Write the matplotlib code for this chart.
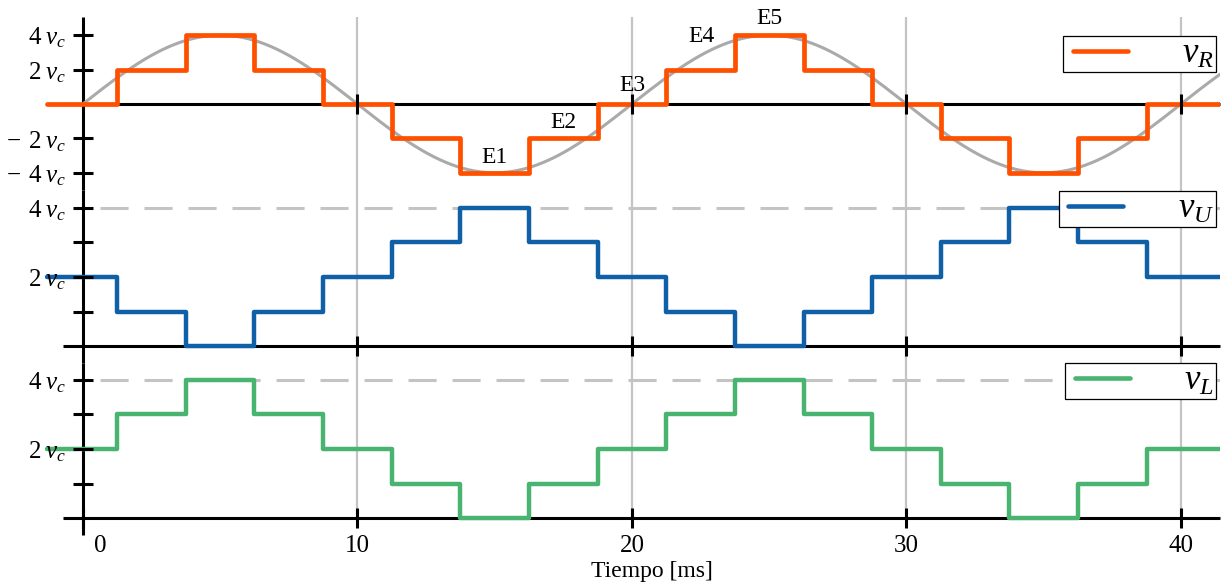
import numpy as np
import matplotlib
matplotlib.use('Agg')
import matplotlib.pyplot as plt
from matplotlib.lines import Line2D
from matplotlib.legend_handler import HandlerLine2D
from matplotlib.transforms import ScaledTranslation

plt.rcParams['font.family'] = 'Liberation Serif'
plt.rcParams['mathtext.fontset'] = 'custom'
plt.rcParams['mathtext.rm'] = 'Liberation Serif'
plt.rcParams['mathtext.it'] = 'Liberation Serif:italic'

# time range and switching instants [ms]
t_start, t_end = -1.31, 41.42
t_switch = [1.25, 3.75, 6.25, 8.75, 11.25, 13.75, 16.25, 18.75,
            21.25, 23.75, 26.25, 28.75, 31.25, 33.75, 36.25, 38.75]

# output levels, in units of v_c
v_R = [0, 2, 4, 2, 0, -2, -4, -2, 0, 2, 4, 2, 0, -2, -4, -2, 0]
v_U = [2, 1, 0, 1, 2, 3, 4, 3, 2, 1, 0, 1, 2, 3, 4, 3, 2]
v_L = [2, 3, 4, 3, 2, 1, 0, 1, 2, 3, 4, 3, 2, 1, 0, 1, 2]

# reference sine: 4 v_c, 50 Hz
amp = 4
period = 20

# level names and where they are written (t, v)
level_names = ['E1', 'E2', 'E3', 'E4', 'E5']
level_pos = [(15.0, -3.1), (17.5, -1.05), (20.0, 1.1), (22.55, 3.95), (25.0, 5.0)]

x_ticks = [0, 10, 20, 30, 40]
r_ticks = [-4, -2, 2, 4]
r_labels = [r'$-\;\,4\;v_c$', r'$-\;\,2\;v_c$', r'$2\;v_c$', r'$4\;v_c$']
ul_ticks = [1, 2, 3, 4]
ul_labels = ['', r'$2\;v_c$', '', r'$4\;v_c$']

c_R = '#ff5000'
c_U = '#1060a8'
c_L = '#48b470'
c_grid = '#c4c4c4'

W, H = 1225, 583
fig = plt.figure(figsize=(W / 100, H / 100), dpi=100)


def axes_px(top, bottom):
    return fig.add_axes([45 / W, 1 - bottom / H, (1220 - 45) / W, (bottom - top) / H])


ax_r = axes_px(17, 190)
ax_u = axes_px(190, 363)
ax_l = axes_px(363, 535)

ax_r.set_ylim(-5.0, 5.06)
ax_u.set_ylim(-0.49, 4.52)
ax_l.set_ylim(-0.49, 4.49)

edges = [t_start] + t_switch + [t_end]

for ax in (ax_r, ax_u, ax_l):
    ax.set_xlim(-1.38, 41.42)
    for s in ('top', 'right'):
        ax.spines[s].set_visible(False)
    ax.spines['left'].set_position(('data', 0))
    ax.spines['bottom'].set_position(('data', 0))
    ax.spines['bottom'].set_bounds(-0.73, 41.42)
    for s in ('left', 'bottom'):
        ax.spines[s].set_linewidth(2.2)
        ax.spines[s].set_capstyle('butt')
    ax.patch.set_visible(False)
    ax.tick_params(direction='inout', length=14, width=2.2, labelsize=18, pad=5)
    ax.xaxis.set_zorder(4)
    ax.yaxis.set_zorder(4)
    ax.set_xticks(x_ticks[1:])
    ax.tick_params(axis='x', labelbottom=False)
    lo = ax.get_ylim()[1]
    ax.vlines(x_ticks[1:], 0 if ax is ax_l else ax.get_ylim()[0], lo,
              colors=c_grid, lw=1.6, zorder=1)

# top: reference sine + v_R
t = np.linspace(0, t_end, 600)
ax_r.plot(t, amp * np.sin(2 * np.pi * t / period), color='#aaaaaa', lw=2.2, zorder=2.8)
ax_r.stairs(v_R, edges, baseline=None, color=c_R, lw=3.4, zorder=3,
            capstyle='round', joinstyle='round')
ax_r.set_yticks(r_ticks, r_labels)
for name, (tx, vy) in zip(level_names, level_pos):
    ax_r.text(tx, vy, name, fontsize=17, ha='center', va='center', zorder=3.5)

# middle: v_U
ax_u.hlines(4, 0.62, t_end, colors=c_grid, lw=2.2, linestyles=(0, (9.2, 5.2)), zorder=1.5)
ax_u.stairs(v_U, edges, baseline=None, color=c_U, lw=3.2, zorder=3,
            capstyle='round', joinstyle='round')
ax_u.set_yticks(ul_ticks, ul_labels)

# bottom: v_L
ax_l.hlines(4, 0.62, t_end, colors=c_grid, lw=2.2, linestyles=(0, (9.2, 5.2)), zorder=1.5)
ax_l.stairs(v_L, edges, baseline=None, color=c_L, lw=3.2, zorder=3,
            capstyle='round', joinstyle='round')
ax_l.set_yticks(ul_ticks, ul_labels)
ax_l.set_xticks(x_ticks)
ax_l.tick_params(axis='x', labelbottom=True)
ax_l.get_xticklabels()[0].set_transform(
    ax_l.get_xticklabels()[0].get_transform() + ScaledTranslation(0.17, 0, fig.dpi_scale_trans))
ax_l.set_xlabel('Tiempo [ms]', fontsize=17)
ax_l.xaxis.set_label_coords((t_end / 2 + 1.38) / (41.42 + 1.38), -0.15)

for ax, top, color, name in ((ax_r, 36, c_R, r'$v_R$'), (ax_u, 191, c_U, r'$v_U$'),
                             (ax_l, 363, c_L, r'$v_L$')):
    handle = Line2D([], [], color=color, lw=3.3, solid_capstyle='round')
    leg = ax.legend([handle], [name], loc='upper right',
                    bbox_to_anchor=(1216 / W, 1 - top / H),
                    bbox_transform=fig.transFigure, fontsize=25, fancybox=False,
                    edgecolor='black', framealpha=1, borderaxespad=0,
                    handlelength=1.8, handletextpad=1.58, borderpad=0.05,
                    handler_map={Line2D: HandlerLine2D(xpad=0.22)})
    leg.get_frame().set_linewidth(0.9)
    leg.set_zorder(5)

fig.savefig('out.png', dpi=100)
